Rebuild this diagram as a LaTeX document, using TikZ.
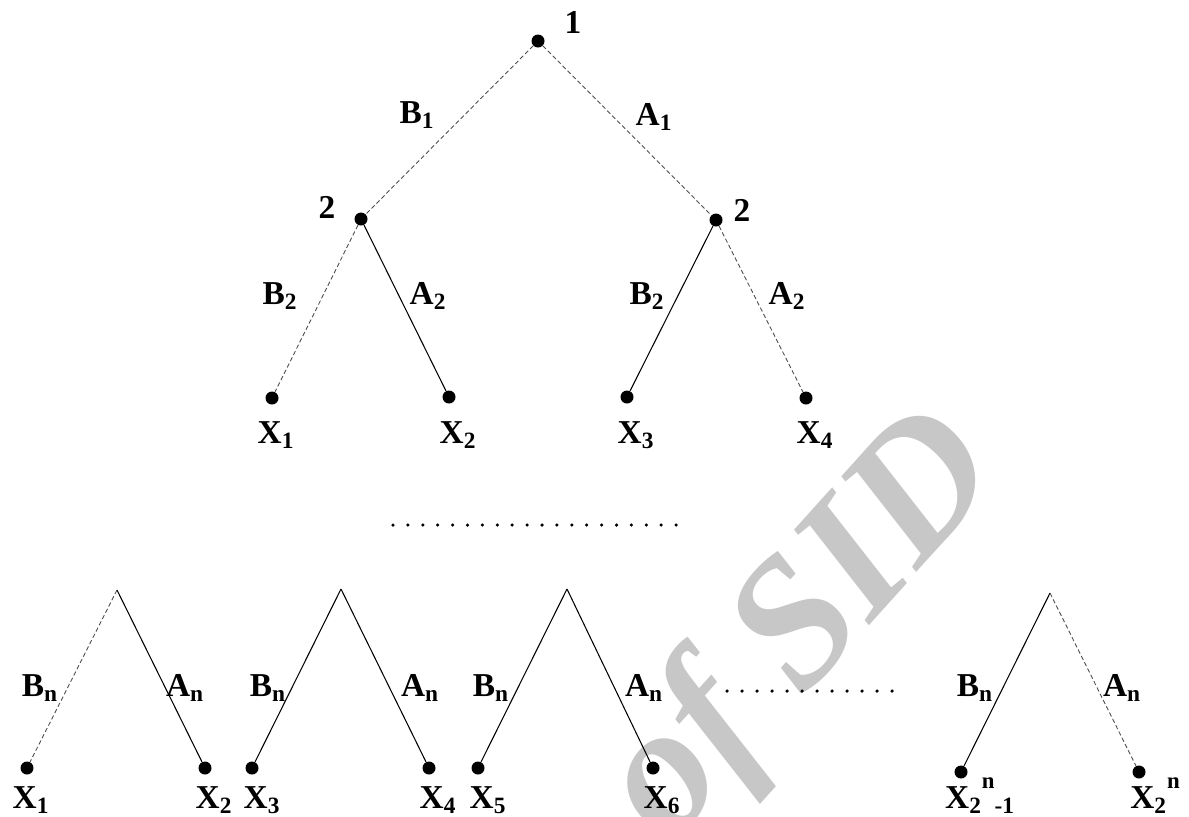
\documentclass[tikz,border=0pt]{standalone}
\usepackage{fontspec}
\setmainfont{Liberation Serif}
\usetikzlibrary{positioning}

\newcommand{\Xsub}[1]{X\textsubscript{#1}}

\begin{document}
\begin{tikzpicture}[x=0.02cm, y=-0.02cm,
  font=\fontsize{19}{22}\selectfont\bfseries,
  leaf/.style={circle, fill=black, inner sep=0pt, minimum size=0.26cm},
  lbl/.style={inner sep=0pt},
  solidedge/.style={line width=0.6pt},
  dashedge/.style={line width=0.5pt, black!70, dash pattern=on 2.5pt off 1.5pt}]

  \useasboundingbox (0,0) rectangle (1189,816);

  % watermark
  \node[text=black!22, rotate=48, anchor=base, font=\fontsize{104}{104}\selectfont\bfseries\itshape] (wm) at (838,660) {of SID};

  % first two levels
  \node[leaf] (r) at (538,41) {};
  \node[leaf] (bl) at (361,219) {};
  \node[leaf] (br) at (716,220) {};
  \node[leaf] (x1) at (272,398) {};
  \node[leaf] (x2) at (449,397) {};
  \node[leaf] (x3) at (627,397) {};
  \node[leaf] (x4) at (806,398) {};

  \draw[dashedge] (r) -- (bl);
  \draw[dashedge] (r) -- (br);
  \draw[dashedge] (bl) -- (x1);
  \draw[solidedge] (bl) -- (x2);
  \draw[solidedge] (br) -- (x3);
  \draw[dashedge] (br) -- (x4);

  \node[lbl] (lr) at (573,22) {1};
  \node[lbl] (lbl) at (327,207) {2};
  \node[lbl] (lbr) at (742,210) {2};
  \node[lbl] (b1) at (417,115) {B\textsubscript{1}};
  \node[lbl] (a1) at (654,117) {A\textsubscript{1}};
  \node[lbl] (b2l) at (280,296) {B\textsubscript{2}};
  \node[lbl] (a2l) at (428,296) {A\textsubscript{2}};
  \node[lbl] (b2r) at (647,296) {B\textsubscript{2}};
  \node[lbl] (a2r) at (787,296) {A\textsubscript{2}};

  \node[lbl] (lx1) at (276,435) {\Xsub{1}};
  \node[lbl] (lx2) at (458,435) {\Xsub{2}};
  \node[lbl] (lx3) at (636,435) {\Xsub{3}};
  \node[lbl] (lx4) at (815,435) {\Xsub{4}};

  % dots between levels
  \foreach \i in {0,...,19}
    \fill (393+14.9*\i,525) circle (1pt);

  % last level
  \coordinate (t1) at (117,590);
  \coordinate (t2) at (341,589);
  \coordinate (t3) at (567,589);
  \coordinate (t4) at (1050,593);

  \node[leaf] (y1) at (27,768) {};
  \node[leaf] (y2) at (205,768) {};
  \node[leaf] (y3) at (252,768) {};
  \node[leaf] (y4) at (429,768) {};
  \node[leaf] (y5) at (478,768) {};
  \node[leaf] (y6) at (653,768) {};
  \node[leaf] (y7) at (961,772) {};
  \node[leaf] (y8) at (1139,772) {};

  \draw[dashedge] (t1) -- (y1);
  \draw[solidedge] (t1) -- (y2);
  \draw[solidedge] (t2) -- (y3);
  \draw[solidedge] (t2) -- (y4);
  \draw[solidedge] (t3) -- (y5);
  \draw[solidedge] (t3) -- (y6);
  \draw[solidedge] (t4) -- (y7);
  \draw[dashedge] (t4) -- (y8);

  \node[lbl] (bn1) at (40,688) {B\textsubscript{n}};
  \node[lbl] (an1) at (185,688) {A\textsubscript{n}};
  \node[lbl] (bn2) at (268,688) {B\textsubscript{n}};
  \node[lbl] (an2) at (420,688) {A\textsubscript{n}};
  \node[lbl] (bn3) at (491,688) {B\textsubscript{n}};
  \node[lbl] (an3) at (644,688) {A\textsubscript{n}};
  \node[lbl] (bn4) at (975,688) {B\textsubscript{n}};
  \node[lbl] (an4) at (1122,688) {A\textsubscript{n}};

  \node[lbl] (ly1) at (31,800) {\Xsub{1}};
  \node[lbl] (ly2) at (214,800) {\Xsub{2}};
  \node[lbl] (ly3) at (262,800) {\Xsub{3}};
  \node[lbl] (ly4) at (438,800) {\Xsub{4}};
  \node[lbl] (ly5) at (488,800) {\Xsub{5}};
  \node[lbl] (ly6) at (662,800) {\Xsub{6}};
  \node[lbl] (ly7) at (980,796) {X\textsubscript{2}\raisebox{1.3ex}{\fontsize{13}{13}\selectfont n}\textsubscript{-1}};
  \node[lbl] (ly8) at (1155,796) {X\textsubscript{2}\raisebox{1.3ex}{\fontsize{13}{13}\selectfont n}};

  % dots in last level
  \foreach \i in {0,...,11}
    \fill (727+15*\i,691) circle (1pt);
\end{tikzpicture}
\end{document}
